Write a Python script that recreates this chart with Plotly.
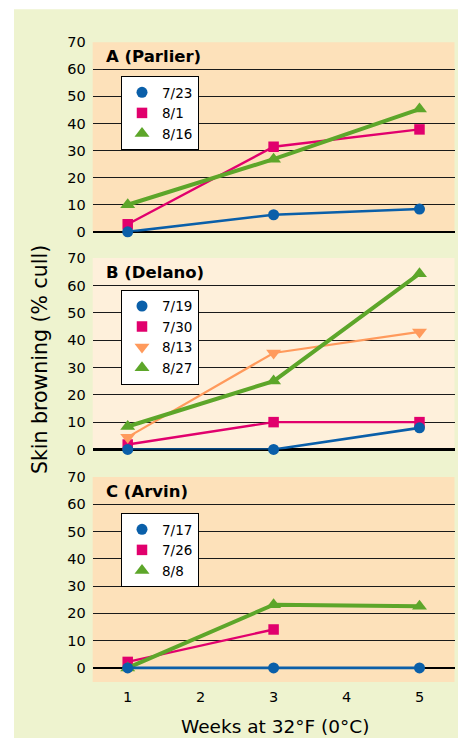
import plotly.graph_objects as go

# ---- data ----
weeks = [1, 3, 5]
weeks_short = [1, 3]

# Panel A (Parlier)
a_names = ["7/23", "8/1", "8/16"]
a_0723 = [0, 6.3, 8.4]
a_0801 = [2.8, 31.4, 37.8]
a_0816 = [10.0, 26.8, 45.3]

# Panel B (Delano)
b_names = ["7/19", "7/30", "8/13", "8/27"]
b_0719 = [0, 0, 7.9]
b_0730 = [1.8, 10.0, 10.0]
b_0813 = [4.5, 35.3, 43.0]
b_0827 = [8.4, 25.0, 64.3]

# Panel C (Arvin)
c_names = ["7/17", "7/26", "8/8"]
c_0717 = [0, 0, 0]
c_0726 = [2.2, 14.1]
c_0808 = [0, 23.2, 22.6]

panel_titles = ["A (Parlier)", "B (Delano)", "C (Arvin)"]
y_ticks = [0, 10, 20, 30, 40, 50, 60, 70]
x_ticks = [1, 2, 3, 4, 5]
x_title = "Weeks at 32°F (0°C)"
y_title = "Skin browning (% cull)"

# ---- style ----
W, H = 458, 740
BLUE = "#0a5fa9"
PINK = "#e1006d"
GREEN = "#5da62a"
ORANGE = "#ff9a5c"
BG_GREEN = "#eef3cf"
PEACH = "#fde1ba"
CREAM = "#fef0db"
FONT = "DejaVu Sans"

# vertical calibration of the page as photographed
V_SCALE, V_OFF = 0.98, 6.8

def px(x):
    return x / W

def py(y):
    yy = (y - V_OFF) / V_SCALE
    return 1 - yy / H

styles = {
    "blue": dict(color=BLUE, symbol="circle", size=11, width=2.6),
    "pink": dict(color=PINK, symbol="square", size=10.5, width=2.4),
    "orange": dict(color=ORANGE, symbol="triangle-down", size=13, width=2.2),
    "green": dict(color=GREEN, symbol="triangle-up", size=13, width=4),
}

fig = go.Figure()

def add_series(xs, ys, sty, axis_idx):
    s = styles[sty]
    sfx = "" if axis_idx == 1 else str(axis_idx)
    fig.add_trace(go.Scatter(
        x=xs, y=ys, mode="lines+markers",
        line=dict(color=s["color"], width=s["width"]),
        marker=dict(color=s["color"], symbol=s["symbol"], size=s["size"]),
        xaxis="x" + sfx, yaxis="y" + sfx, showlegend=False,
        cliponaxis=False, hoverinfo="skip",
    ))

def add_legend_entry(name, sty, axis_idx):
    s = styles[sty]
    sfx = "" if axis_idx == 1 else str(axis_idx)
    fig.add_trace(go.Scatter(
        x=[None], y=[None], mode="markers", name=name,
        marker=dict(color=s["color"], symbol=s["symbol"], size=s["size"]),
        xaxis="x" + sfx, yaxis="y" + sfx, showlegend=True,
        legend="legend" if axis_idx == 1 else "legend" + str(axis_idx),
    ))

# Panel A draw order (pink, green, blue on top)
add_series(weeks, a_0801, "pink", 1)
add_series(weeks, a_0816, "green", 1)
add_series(weeks, a_0723, "blue", 1)
# Panel B
add_series(weeks, b_0730, "pink", 2)
add_series(weeks, b_0813, "orange", 2)
add_series(weeks, b_0827, "green", 2)
add_series(weeks, b_0719, "blue", 2)
# Panel C
add_series(weeks_short, c_0726, "pink", 3)
add_series(weeks, c_0808, "green", 3)
add_series(weeks, c_0717, "blue", 3)

# Legends
for n, s in zip(a_names, ["blue", "pink", "green"]):
    add_legend_entry(n, s, 1)
for n, s in zip(b_names, ["blue", "pink", "orange", "green"]):
    add_legend_entry(n, s, 2)
for n, s in zip(c_names, ["blue", "pink", "green"]):
    add_legend_entry(n, s, 3)

# Panel geometry (pixels from top)
panels = [
    dict(top=41, bottom=231, rng=[0, 70], bg=PEACH, leg_top=75),
    dict(top=257.3, bottom=449, rng=[0, 70], bg=CREAM, leg_top=289),
    dict(top=476.7, bottom=682, rng=[-5.2, 70], bg=PEACH, leg_top=512.7),
]
x_dom = [px(92.7), px(454.5)]
x_rng = [0.52, 5.48]

layout = dict(
    width=W, height=H,
    margin=dict(l=0, r=0, t=0, b=0),
    paper_bgcolor="white",
    plot_bgcolor="rgba(0,0,0,0)",
    font=dict(family=FONT, size=14.5, color="black"),
    showlegend=True,
    shapes=[],
    annotations=[],
)

layout["shapes"].append(dict(
    type="rect", xref="paper", yref="paper",
    x0=px(14), x1=1.0, y0=py(738), y1=py(8),
    fillcolor=BG_GREEN, line=dict(width=0), layer="below",
))

for i, p in enumerate(panels, start=1):
    sfx = "" if i == 1 else str(i)
    last = (i == 3)
    layout["xaxis" + sfx] = dict(
        domain=x_dom, range=x_rng, anchor="y" + sfx,
        showgrid=False, zeroline=False, showline=False,
        tickvals=x_ticks, showticklabels=last, ticks="",
        tickfont=dict(size=14.5), ticklabelstandoff=4,
    )
    layout["yaxis" + sfx] = dict(
        domain=[py(p["bottom"]), py(p["top"])], range=p["rng"],
        anchor="x" + sfx, tickvals=y_ticks,
        showgrid=True, gridcolor="#1a1a1a", gridwidth=1,
        zeroline=True, zerolinecolor="black", zerolinewidth=2.2,
        showline=False, ticks="", ticklabelstandoff=6,
        tickfont=dict(size=14.5),
    )
    layout["shapes"].append(dict(
        type="rect", xref="x" + sfx + " domain", yref="y" + sfx + " domain",
        x0=0, x1=1, y0=0, y1=1, fillcolor=p["bg"],
        line=dict(width=0), layer="below",
    ))
    layout["annotations"].append(dict(
        text="<b>" + panel_titles[i - 1] + "</b>",
        xref="paper", yref="paper", x=px(104), y=py(p["top"] + 14.5),
        xanchor="left", yanchor="middle", showarrow=False,
        font=dict(size=16.5, family=FONT),
    ))
    leg_key = "legend" if i == 1 else "legend" + str(i)
    layout[leg_key] = dict(
        x=px(121), y=py(p["leg_top"]), xanchor="left", yanchor="top",
        bgcolor="white", bordercolor="black", borderwidth=1,
        font=dict(size=13.5, family=FONT), traceorder="normal",
        itemsizing="trace",
    )

layout["annotations"].append(dict(
    text=x_title, xref="paper", yref="paper", x=px(275), y=py(726.5),
    xanchor="center", yanchor="middle", showarrow=False,
    font=dict(size=18.5, family=FONT),
))
layout["annotations"].append(dict(
    text=y_title, xref="paper", yref="paper", x=px(39.5), y=py(359),
    xanchor="center", yanchor="middle", showarrow=False, textangle=-90,
    font=dict(size=20.5, family=FONT),
))

fig.update_layout(**layout)
fig.write_html(
    "out.html",
    config={"displayModeBar": False, "staticPlot": True},
    post_script=(
        "document.documentElement.style.margin='0';"
        "document.documentElement.style.padding='0';"
        "document.documentElement.style.overflow='hidden';"
        "document.body.style.margin='0';"
        "document.body.style.padding='0';"
        "document.body.style.overflow='hidden';"
    ),
)
